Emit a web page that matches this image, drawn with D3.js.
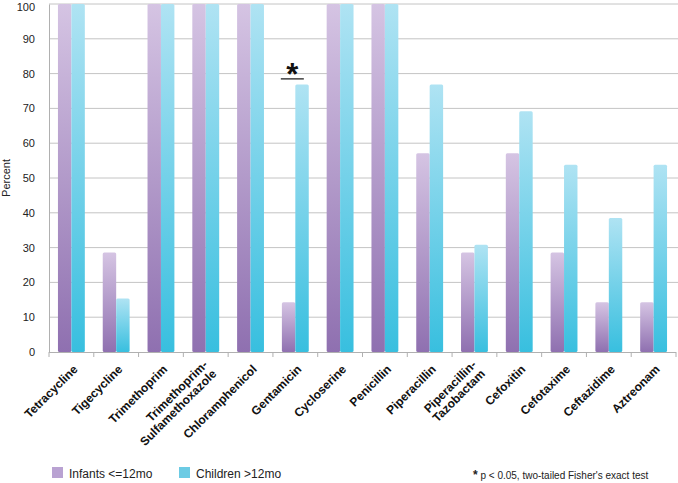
<!DOCTYPE html>
<html><head><meta charset="utf-8">
<script src="https://cdn.jsdelivr.net/npm/d3@7"></script>
<style>body{margin:0;background:#fff;} svg{display:block;font-family:"Liberation Sans",Arial,sans-serif;}</style>
</head><body>
<svg id="c" width="678" height="483"></svg>
<script>
const categories = ["Tetracycline","Tigecycline","Trimethoprim","Trimethoprim-\nSulfamethoxazole","Chloramphenicol","Gentamicin","Cycloserine","Penicillin","Piperacillin","Piperacillin-\nTazobactam","Cefoxitin","Cefotaxime","Ceftazidime","Aztreonam"];
const infants = [100,28.6,100,100,100,14.3,100,100,57.1,28.6,57.1,28.6,14.3,14.3];
const children = [100,15.4,100,100,100,76.9,100,100,76.9,30.8,69.2,53.8,38.5,53.8];
const seriesNames = ["Infants <=12mo","Children >12mo"];
const yTicks = [0,10,20,30,40,50,60,70,80,90,100];
const significant = ["Gentamicin"];

const svg = d3.select("#c");
const L=49, R=676, T=4, B=352;
const x = d3.scaleBand().domain(categories).range([L,R]).paddingInner(0.4).paddingOuter(0.2);
const xs = d3.scaleBand().domain([0,1]).range([0,x.bandwidth()]);
const y = d3.scaleLinear().domain([0,100]).range([B,T]);

const defs = svg.append("defs");
function grad(id, top, bot){
  const g = defs.append("linearGradient").attr("id",id).attr("x1",0).attr("y1",0).attr("x2",0).attr("y2",1);
  g.append("stop").attr("offset","0%").attr("stop-color",top);
  g.append("stop").attr("offset","100%").attr("stop-color",bot);
}
grad("gp","#d5c4e3","#8f70b0");
grad("gc","#afe3f3","#38bfdf");

// gridlines
svg.append("g").selectAll("line").data(yTicks.filter(d=>d>0)).join("line")
  .attr("x1",L).attr("x2",678).attr("y1",d=>y(d)).attr("y2",d=>y(d))
  .attr("stroke","#c4c4c4").attr("stroke-width",1);

// y axis
const ya = svg.append("g").attr("transform",`translate(${L},0)`)
  .call(d3.axisLeft(y).tickValues(yTicks).tickSize(0).tickPadding(14));
ya.select(".domain").attr("stroke","#b0b0b0");
ya.selectAll("text").attr("font-size",11).attr("fill","#222").attr("font-family","Liberation Sans, Arial, sans-serif");
ya.selectAll(".tick").filter(d=>d===100).select("text").attr("dy","0.55em");

svg.append("text").attr("transform","translate(10,178) rotate(-90)").attr("text-anchor","middle")
  .attr("font-size",11).attr("fill","#222").text("Percent");

// bars
const g = svg.append("g");
categories.forEach((c,i)=>{
  [infants[i],children[i]].forEach((v,j)=>{
    g.append("rect").attr("x",x(c)+xs(j)).attr("width",xs.bandwidth())
      .attr("y",y(v)).attr("height",y(0)-y(v))
      .attr("fill",j===0?"url(#gp)":"url(#gc)").attr("rx",1.5);
  });
});

// x axis
svg.append("line").attr("x1",L).attr("x2",R).attr("y1",B+0.5).attr("y2",B+0.5).attr("stroke","#b0b0b0");
const bounds = d3.range(categories.length+1).map(i=>L+i*x.step());
svg.append("g").selectAll("line").data(bounds).join("line")
  .attr("x1",d=>d).attr("x2",d=>d).attr("y1",B).attr("y2",B+5).attr("stroke","#b0b0b0");

// x labels
const lab = svg.append("g").selectAll("text").data(categories).join("text")
  .attr("transform",d=>`translate(${x(d)+x.bandwidth()/2+4},${B+15}) rotate(-45)`)
  .attr("text-anchor","end").attr("font-size",12).attr("font-weight","bold").attr("fill","#111");
lab.each(function(d){
  const parts = d.split("\n");
  const t = d3.select(this);
  parts.forEach((p,k)=>{
    const off = (k-(parts.length-1)/2)*1.05;
    t.append("tspan").attr("x",0).attr("dy",k===0?(off+0.35)+"em":"1.05em").text(p);
  });
});

// significance marker
significant.forEach(c=>{
  const i = categories.indexOf(c);
  const cx = x(c)+x.bandwidth()/2-3;
  const yy = y(Math.max(infants[i],children[i]));
  svg.append("line").attr("x1",cx-11.5).attr("x2",cx+11.5).attr("y1",yy-5.5).attr("y2",yy-5.5).attr("stroke","#111").attr("stroke-width",1.2);
  svg.append("text").attr("x",cx).attr("y",yy+1).attr("text-anchor","middle").attr("font-size",31).attr("font-weight","bold").attr("fill","#111").text("*");
});

// legend
const lg = svg.append("g");
const legCol = ["#b9a2d2","#6ccbe4"];
const legX = [52,179];
seriesNames.forEach((n,j)=>{
  lg.append("rect").attr("x",legX[j]).attr("y",467).attr("width",11).attr("height",11).attr("fill",legCol[j]);
  lg.append("text").attr("x",legX[j]+17).attr("y",478).attr("font-size",12).attr("fill","#222").text(n);
});
const fn = svg.append("text").attr("x",473).attr("y",479).attr("font-size",10).attr("fill","#222");
fn.append("tspan").attr("font-weight","bold").attr("font-size",12).text("*");
fn.append("tspan").text(" p < 0.05, two-tailed Fisher's exact test");
</script>
</body></html>
